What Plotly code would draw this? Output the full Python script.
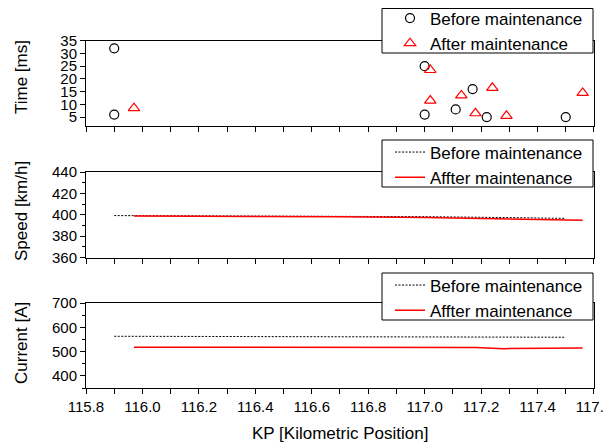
import plotly.graph_objects as go

# The page body has an 8px default margin, so the figure is sized to fit the
# 611x443 window after that offset.
PAGE_W, PAGE_H = 611, 443
OFF = 8
W, H = PAGE_W - OFF, PAGE_H - OFF

# ---- data ----
kp_time_before = [115.90, 115.90, 117.00, 117.00, 117.11, 117.17, 117.22, 117.50]
time_before = [32, 6, 25, 6, 8, 16, 5, 5]
kp_time_after = [115.97, 117.02, 117.02, 117.13, 117.18, 117.24, 117.29, 117.56]
time_after = [8.5, 23.5, 11.5, 13.5, 6.5, 16.5, 5.5, 14.5]

kp_speed_before = [115.90, 116.20, 116.60, 117.00, 117.30, 117.50]
speed_before = [399.2, 399.1, 398.8, 398.2, 397.3, 396.6]
kp_speed_after = [115.97, 116.30, 116.70, 117.00, 117.30, 117.56]
speed_after = [398.8, 398.7, 398.2, 397.3, 396.0, 394.8]

kp_current_before = [115.90, 116.30, 116.70, 117.10, 117.50]
current_before = [563, 563, 562, 560, 559]
kp_current_after = [115.97, 116.30, 116.70, 117.00, 117.18, 117.28, 117.40, 117.56]
current_after = [518, 517, 516, 516, 517, 512, 513, 515]

x_ticks = [115.8, 116.0, 116.2, 116.4, 116.6, 116.8, 117.0, 117.2, 117.4, 117.6]
x_ticktext = ["115.8", "116.0", "116.2", "116.4", "116.6", "116.8", "117.0", "117.2", "117.4", "117.6"]

FONT = "Arial, Liberation Sans, sans-serif"

def px_x(p):
    return (p - OFF) / W

def px_y(p):
    return (H - (p - OFF)) / H

xdom = [px_x(86), px_x(594)]
dom_top = [px_y(126), px_y(40.7)]
dom_mid = [px_y(258), px_y(172)]
dom_bot = [px_y(388), px_y(303)]

fig = go.Figure()

# top panel: time
fig.add_trace(go.Scatter(x=kp_time_before, y=time_before, mode="markers", name="Before maintenance",
                         marker=dict(symbol="circle-open", size=9, color="black", line=dict(width=1.2)),
                         xaxis="x", yaxis="y", legend="legend"))
fig.add_trace(go.Scatter(x=kp_time_after, y=time_after, mode="markers", name="After maintenance",
                         marker=dict(symbol="triangle-up-open", size=10, color="red", line=dict(width=1.2)),
                         xaxis="x", yaxis="y", legend="legend"))

# middle: speed
fig.add_trace(go.Scatter(x=kp_speed_before, y=speed_before, mode="lines", name="Before maintenance",
                         line=dict(color="black", width=1, dash="2px,1.5px"),
                         xaxis="x2", yaxis="y2", legend="legend2"))
fig.add_trace(go.Scatter(x=kp_speed_after, y=speed_after, mode="lines", name="Affter maintenance",
                         line=dict(color="red", width=1.5),
                         xaxis="x2", yaxis="y2", legend="legend2"))

# bottom: current
fig.add_trace(go.Scatter(x=kp_current_before, y=current_before, mode="lines", name="Before maintenance",
                         line=dict(color="black", width=1, dash="2px,1.5px"),
                         xaxis="x3", yaxis="y3", legend="legend3"))
fig.add_trace(go.Scatter(x=kp_current_after, y=current_after, mode="lines", name="Affter maintenance",
                         line=dict(color="red", width=1.5),
                         xaxis="x3", yaxis="y3", legend="legend3"))

def xax(anchor, labels):
    return dict(domain=xdom, anchor=anchor, range=[115.8, 117.6001], tickvals=x_ticks,
                ticktext=x_ticktext, showticklabels=labels, automargin=False,
                ticklabeloverflow="allow",
                ticks="outside", ticklen=5, tickwidth=1, tickcolor="black",
                minor=dict(dtick=0.1, tick0=115.8, ticks="outside", ticklen=5, tickwidth=1, tickcolor="black"),
                showline=True, linecolor="black", linewidth=1, mirror=True,
                showgrid=False, zeroline=False,
                tickfont=dict(family=FONT, size=15, color="black"))

def yax(anchor, dom, rng, tickvals, minor=None):
    d = dict(domain=dom, anchor=anchor, range=rng, tickvals=tickvals, automargin=False,
             ticks="outside", ticklen=5, tickwidth=1, tickcolor="black",
             showline=True, linecolor="black", linewidth=1, mirror=True,
             showgrid=False, zeroline=False,
             tickfont=dict(family=FONT, size=15, color="black"))
    if minor is not None:
        d["minor"] = dict(dtick=minor, ticks="outside", ticklen=3, tickwidth=1, tickcolor="black")
    return d

def leg(ytop_px):
    return dict(x=px_x(390), y=px_y(ytop_px), xanchor="left", yanchor="top",
                bgcolor="rgba(0,0,0,0)", borderwidth=0,
                font=dict(family=FONT, size=17, color="black"))

fig.update_layout(
    template="none",
    width=W, height=H,
    margin=dict(l=0, r=0, t=0, b=0, autoexpand=False),
    paper_bgcolor="white", plot_bgcolor="white",
    font=dict(family=FONT, color="black"),
    xaxis=xax("y", False),
    yaxis=yax("x", dom_top, [1.5, 35], [5, 10, 15, 20, 25, 30, 35]),
    xaxis2=xax("y2", False),
    yaxis2=yax("x2", dom_mid, [359.5, 440], [360, 380, 400, 420, 440], minor=10),
    xaxis3=xax("y3", True),
    yaxis3=yax("x3", dom_bot, [350, 700], [400, 500, 600, 700], minor=50),
    legend=leg(0.5),
    legend2=leg(134.5),
    legend3=leg(267.5),
)

# legend frames (white boxes with black border)
for top, bot in [(8.5, 53), (140, 187), (273, 320)]:
    fig.add_shape(type="rect", xref="paper", yref="paper",
                  x0=px_x(382), x1=px_x(593), y0=px_y(bot), y1=px_y(top),
                  fillcolor="white", line=dict(color="black", width=1), layer="above")

ann = [
    dict(text="Time [ms]", x=px_x(21), y=px_y(77)),
    dict(text="Speed [km/h]", x=px_x(21), y=px_y(211)),
    dict(text="Current [A]", x=px_x(21), y=px_y(343)),
]
for a in ann:
    fig.add_annotation(text=a["text"], x=a["x"], y=a["y"], xref="paper", yref="paper",
                       textangle=-90, showarrow=False, xanchor="center", yanchor="middle",
                       font=dict(family=FONT, size=17, color="black"))
fig.add_annotation(text="KP [Kilometric Position]", x=px_x(340), y=px_y(433), xref="paper", yref="paper",
                   showarrow=False, xanchor="center", yanchor="middle",
                   font=dict(family=FONT, size=17, color="black"))

fig.write_html("out.html")
